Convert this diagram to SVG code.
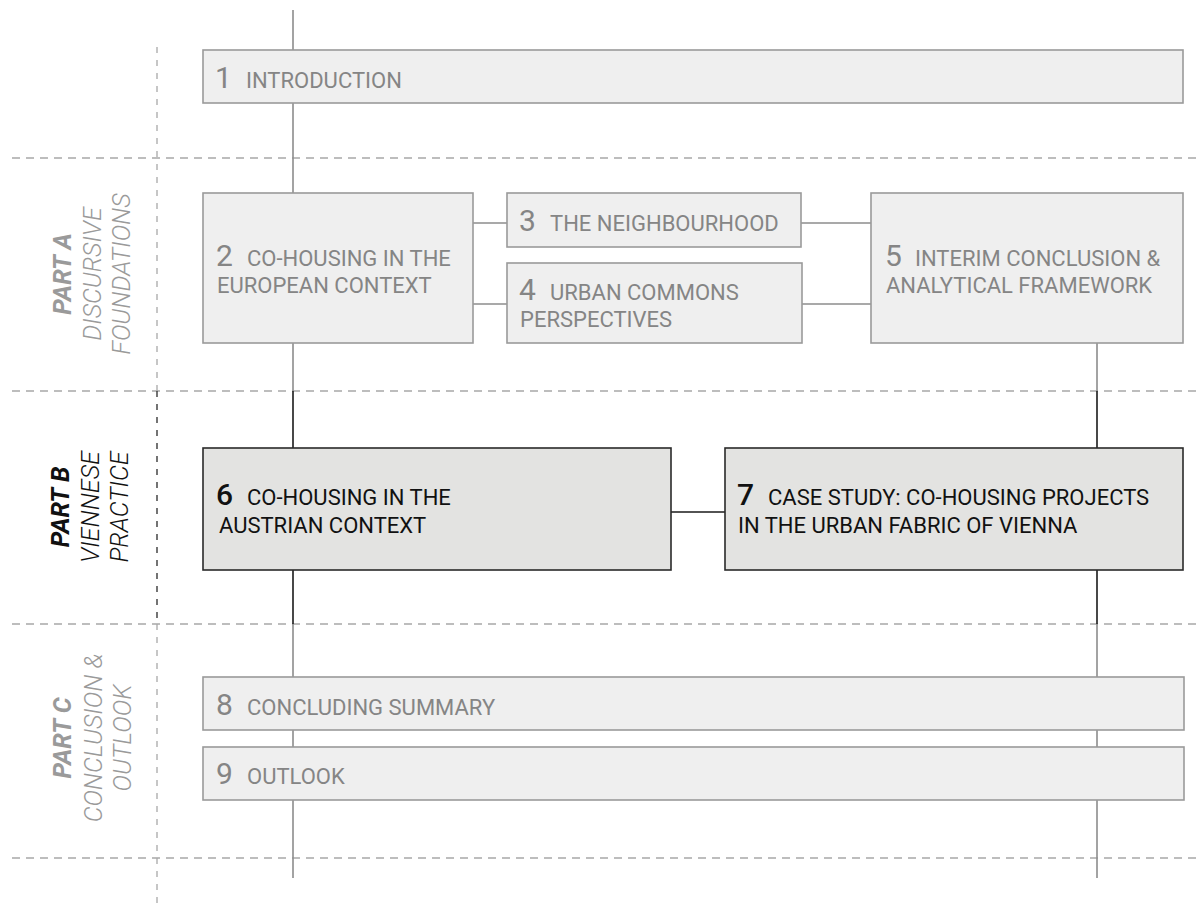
<svg xmlns="http://www.w3.org/2000/svg" width="1202" height="907" viewBox="0 0 1202 907">
  <style>
    .grid { stroke: #a8a8a8; stroke-width: 1.3; stroke-dasharray: 8 6; fill: none; }
    .grid-dark { stroke: #2a2a2a; stroke-width: 1.3; stroke-dasharray: 6 7; fill: none; }
    .grid-v { stroke: #a8a8a8; stroke-width: 1.3; stroke-dasharray: 6 7; fill: none; }
    .wire { stroke: #8c8c8c; stroke-width: 1.6; fill: none; }
    .wire-dark { stroke: #1a1a1a; stroke-width: 1.6; fill: none; }
    .box { fill: #efefef; stroke: #9a9a9a; stroke-width: 1.6; }
    .box-dark { fill: #e3e3e1; stroke: #2a2a2a; stroke-width: 1.6; }
    text { font-family: Roboto, "Liberation Sans", sans-serif; }
    .num { font-size: 30px; fill: #858585; }
    .lbl { font-size: 22px; fill: #858585; }
    .num-dark { font-size: 30px; fill: #111111; font-weight: 500; }
    .lbl-dark { font-size: 22px; fill: #111111; }
    .part { font-size: 25px; font-weight: 700; font-style: italic; fill: #9a9a9a; }
    .sub { font-size: 25px; font-weight: 300; font-style: italic; fill: #9a9a9a; }
    .part-dark { font-size: 25px; font-weight: 700; font-style: italic; fill: #111111; }
    .sub-dark { font-size: 25px; font-weight: 300; font-style: italic; fill: #111111; }
  </style>

  <!-- section grid -->
  <g id="grid">
    <line class="grid" x1="12" y1="158" x2="1202" y2="158"/>
    <line class="grid" x1="12" y1="391" x2="1202" y2="391"/>
    <line class="grid" x1="12" y1="624" x2="1202" y2="624"/>
    <line class="grid" x1="12" y1="858" x2="1202" y2="858"/>
    <line class="grid-v" x1="157" y1="47" x2="157" y2="391"/>
    <line class="grid-dark" x1="157" y1="391" x2="157" y2="624"/>
    <line class="grid-v" x1="157" y1="624" x2="157" y2="907"/>
  </g>

  <!-- part labels -->
  <g id="part-a" text-anchor="middle">
    <text class="part" transform="translate(71 274) rotate(-90)">PART A</text>
    <text class="sub" transform="translate(101 274) rotate(-90)">DISCURSIVE</text>
    <text class="sub" transform="translate(130 274) rotate(-90)">FOUNDATIONS</text>
  </g>
  <g id="part-b" text-anchor="middle">
    <text class="part-dark" transform="translate(69 507) rotate(-90)">PART B</text>
    <text class="sub-dark" transform="translate(99 507) rotate(-90)">VIENNESE</text>
    <text class="sub-dark" transform="translate(128 507) rotate(-90)">PRACTICE</text>
  </g>
  <g id="part-c" text-anchor="middle">
    <text class="part" transform="translate(71 738) rotate(-90)">PART C</text>
    <text class="sub" transform="translate(102 738) rotate(-90)">CONCLUSION &amp;</text>
    <text class="sub" transform="translate(131 738) rotate(-90)">OUTLOOK</text>
  </g>

  <!-- connectors -->
  <g id="connectors">
    <line class="wire" x1="293" y1="10" x2="293" y2="50"/>
    <line class="wire" x1="293" y1="103" x2="293" y2="193"/>
    <line class="wire" x1="293" y1="343" x2="293" y2="391"/>
    <line class="wire-dark" x1="293" y1="391" x2="293" y2="448"/>
    <line class="wire-dark" x1="293" y1="570" x2="293" y2="624"/>
    <line class="wire" x1="293" y1="624" x2="293" y2="677"/>
    <line class="wire" x1="293" y1="730" x2="293" y2="747"/>
    <line class="wire" x1="293" y1="800" x2="293" y2="878"/>

    <line class="wire" x1="1097" y1="343" x2="1097" y2="391"/>
    <line class="wire-dark" x1="1097" y1="391" x2="1097" y2="448"/>
    <line class="wire-dark" x1="1097" y1="570" x2="1097" y2="624"/>
    <line class="wire" x1="1097" y1="624" x2="1097" y2="677"/>
    <line class="wire" x1="1097" y1="730" x2="1097" y2="747"/>
    <line class="wire" x1="1097" y1="800" x2="1097" y2="878"/>

    <line class="wire" x1="473" y1="223" x2="507" y2="223"/>
    <line class="wire" x1="473" y1="304" x2="507" y2="304"/>
    <line class="wire" x1="801" y1="223" x2="871" y2="223"/>
    <line class="wire" x1="802" y1="304" x2="871" y2="304"/>
    <line class="wire-dark" x1="671" y1="512" x2="725" y2="512"/>
  </g>

  <!-- chapters -->
  <g id="ch1">
    <rect class="box" x="203" y="50" width="980" height="53"/>
    <text class="num" x="215" y="88">1</text>
    <text class="lbl" x="246" y="88">INTRODUCTION</text>
  </g>
  <g id="ch2">
    <rect class="box" x="203" y="193" width="270" height="150"/>
    <text class="num" x="216" y="266">2</text>
    <text class="lbl" x="247" y="266">CO-HOUSING IN THE</text>
    <text class="lbl" x="217" y="293">EUROPEAN CONTEXT</text>
  </g>
  <g id="ch3">
    <rect class="box" x="507" y="193" width="294" height="54"/>
    <text class="num" x="519" y="231">3</text>
    <text class="lbl" x="550" y="231">THE NEIGHBOURHOOD</text>
  </g>
  <g id="ch4">
    <rect class="box" x="507" y="263" width="295" height="80"/>
    <text class="num" x="519" y="300">4</text>
    <text class="lbl" x="550" y="300">URBAN COMMONS</text>
    <text class="lbl" x="520" y="327">PERSPECTIVES</text>
  </g>
  <g id="ch5">
    <rect class="box" x="871" y="193" width="312" height="150"/>
    <text class="num" x="885" y="266">5</text>
    <text class="lbl" x="915" y="266">INTERIM CONCLUSION &amp;</text>
    <text class="lbl" x="886" y="293">ANALYTICAL FRAMEWORK</text>
  </g>
  <g id="ch6">
    <rect class="box-dark" x="203" y="448" width="468" height="122"/>
    <text class="num-dark" x="216" y="505">6</text>
    <text class="lbl-dark" x="247" y="505">CO-HOUSING IN THE</text>
    <text class="lbl-dark" x="219" y="533">AUSTRIAN CONTEXT</text>
  </g>
  <g id="ch7">
    <rect class="box-dark" x="725" y="448" width="458" height="122"/>
    <text class="num-dark" x="737" y="505">7</text>
    <text class="lbl-dark" x="768" y="505">CASE STUDY: CO-HOUSING PROJECTS</text>
    <text class="lbl-dark" x="738" y="533">IN THE URBAN FABRIC OF VIENNA</text>
  </g>
  <g id="ch8">
    <rect class="box" x="203" y="677" width="981" height="53"/>
    <text class="num" x="216" y="715">8</text>
    <text class="lbl" x="247" y="715">CONCLUDING SUMMARY</text>
  </g>
  <g id="ch9">
    <rect class="box" x="203" y="747" width="981" height="53"/>
    <text class="num" x="216" y="784">9</text>
    <text class="lbl" x="247" y="784">OUTLOOK</text>
  </g>
</svg>
